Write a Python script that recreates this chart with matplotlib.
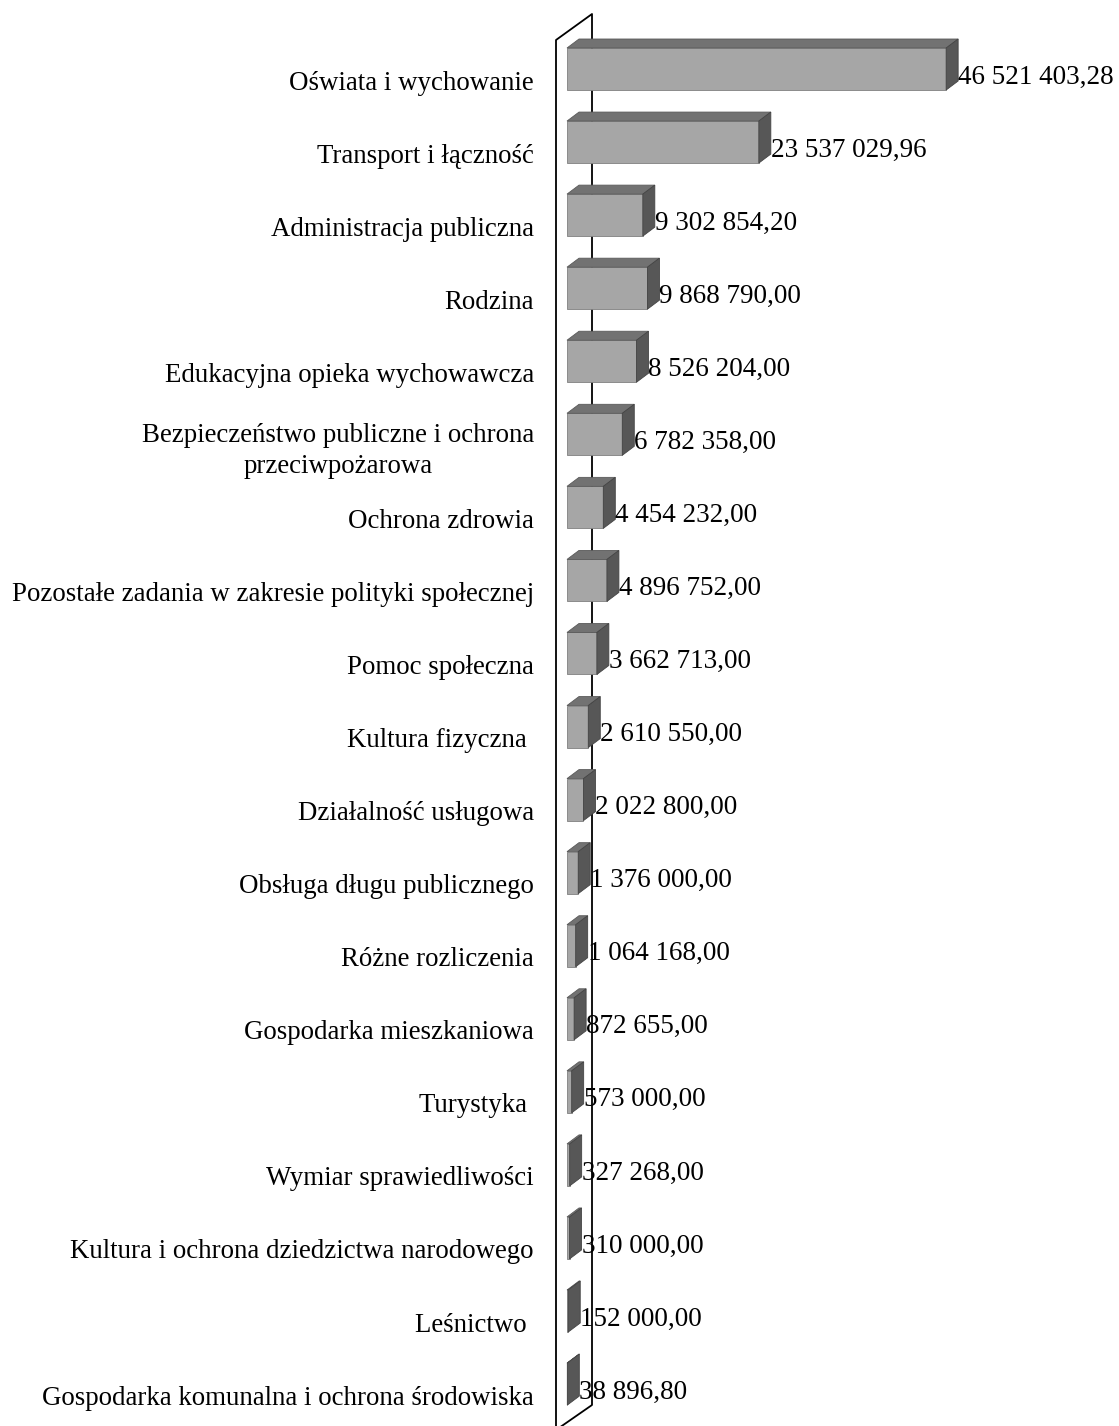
import matplotlib
matplotlib.use('Agg')
import matplotlib.pyplot as plt
from matplotlib.patches import Polygon

plt.rcParams['font.family'] = ['Liberation Serif', 'DejaVu Serif']

# dane
kategorie = [
    'Oświata i wychowanie',
    'Transport i łączność',
    'Administracja publiczna',
    'Rodzina',
    'Edukacyjna opieka wychowawcza',
    'Bezpieczeństwo publiczne i ochrona\nprzeciwpożarowa',
    'Ochrona zdrowia',
    'Pozostałe zadania w zakresie polityki społecznej',
    'Pomoc społeczna',
    'Kultura fizyczna ',
    'Działalność usługowa',
    'Obsługa długu publicznego',
    'Różne rozliczenia',
    'Gospodarka mieszkaniowa',
    'Turystyka ',
    'Wymiar sprawiedliwości',
    'Kultura i ochrona dziedzictwa narodowego',
    'Leśnictwo ',
    'Gospodarka komunalna i ochrona środowiska',
]
wartosci = [46521403.28, 23537029.96, 9302854.20, 9868790.00, 8526204.00,
            6782358.00, 4454232.00, 4896752.00, 3662713.00, 2610550.00,
            2022800.00, 1376000.00, 1064168.00, 872655.00, 573000.00,
            327268.00, 310000.00, 152000.00, 38896.80]

W, H = 1119, 1426
fig = plt.figure(figsize=(W / 100, H / 100), dpi=100)

# os: lewa krawedz na przedniej scianie
x0_px = 556
ax = fig.add_axes([x0_px / W, 0, 1 - x0_px / W, 1])
upx = 122700.0          # jednostek na piksel
zero_px = 567
row0_px, row_px = 80, 73.06
ax.set_xlim((x0_px - zero_px) * upx, (W - zero_px) * upx)
ax.set_ylim((H - row0_px) / row_px, -row0_px / row_px)

def rx(px):
    return (px - zero_px) * upx

def ry(py):
    return (py - row0_px) / row_px

# sciana tylna
ax.plot([rx(556), rx(556), rx(592), rx(592), rx(556)],
        [ry(1430), ry(40), ry(14), ry(1405), ry(1430)],
        color='black', lw=1.3, zorder=1, clip_on=False)

dx = 12 * upx
dy = -9 / row_px
h = 42 / row_px
off = -11 / row_px
y = [i + off for i in range(len(wartosci))]

ax.barh(y, wartosci, height=h, color='#a6a6a6', edgecolor='#808080',
        linewidth=0.6, zorder=3)
for yi, v in zip(y, wartosci):
    top = yi - h / 2
    bot = yi + h / 2
    ax.add_patch(Polygon([(0, top), (v, top), (v + dx, top + dy), (dx, top + dy)],
                         closed=True, facecolor='#727272', edgecolor='#5a5a5a',
                         lw=0.6, zorder=3))
    ax.add_patch(Polygon([(v, top), (v, bot), (v + dx, bot + dy), (v + dx, top + dy)],
                         closed=True, facecolor='#575757', edgecolor='#444444',
                         lw=0.6, zorder=4))
    etykieta = f'{v:,.2f}'.replace(',', ' ').replace('.', ',')
    ax.text(v + dx, yi + 0.11, etykieta, ha='left', va='center',
            fontsize=19.5, color='black', zorder=5)

ax.set_yticks(range(len(kategorie)))
ax.set_yticklabels(kategorie, fontsize=19.4, color='black',
                   multialignment='center', linespacing=1.3)
ax.tick_params(axis='y', length=0, pad=16)
ax.set_xticks([])
for s in ax.spines.values():
    s.set_visible(False)
ax.patch.set_visible(False)

fig.savefig('out.png', dpi=100)
